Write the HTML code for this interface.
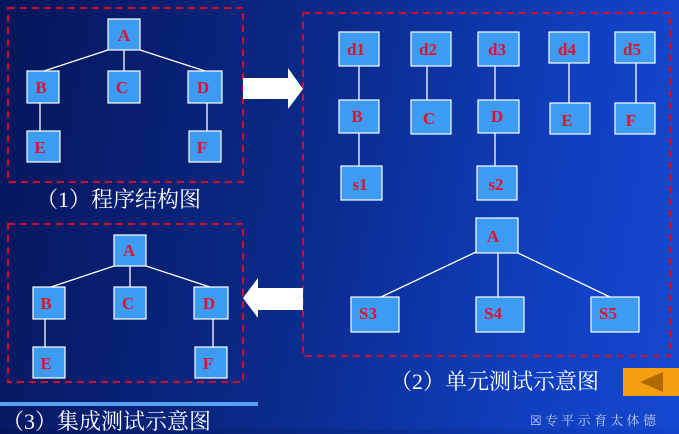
<!DOCTYPE html>
<html><head><meta charset="utf-8"><style>
html,body{margin:0;padding:0}
body{width:679px;height:429px;overflow:hidden;position:relative;background:linear-gradient(100deg,#06155a 0%,#0a2a8a 45%,#1040c0 80%,#1448d0 100%);font-family:"Liberation Serif","Noto Serif CJK SC",serif}
.cap{position:absolute;color:#fff;font-size:22px;line-height:24px;white-space:nowrap}
</style></head><body>
<svg width="679" height="429" style="position:absolute;left:0;top:0">
<g fill="none" stroke="#d0102a" stroke-width="2" stroke-dasharray="7,5">
<rect x="8" y="8" width="235" height="174"/>
<rect x="303" y="13" width="367" height="343"/>
<rect x="8" y="224" width="235" height="158"/>
</g>
<g stroke="#fff" stroke-width="1.3">
<line x1="108" y1="50" x2="44" y2="71"/><line x1="124" y1="50" x2="124" y2="71"/><line x1="140" y1="50" x2="205" y2="71"/>
<line x1="40" y1="103" x2="40" y2="131"/><line x1="207" y1="103" x2="207" y2="131"/>
<line x1="359" y1="66" x2="359" y2="100"/><line x1="427" y1="66" x2="427" y2="100"/><line x1="495" y1="66" x2="495" y2="100"/>
<line x1="569" y1="63" x2="569" y2="103"/><line x1="636" y1="63" x2="636" y2="103"/>
<line x1="359" y1="133" x2="359" y2="166"/><line x1="495" y1="133" x2="495" y2="166"/>
<line x1="476" y1="252" x2="381" y2="297"/><line x1="498" y1="253" x2="498" y2="297"/><line x1="518" y1="253" x2="610" y2="297"/>
<line x1="114" y1="266" x2="51" y2="287"/><line x1="130" y1="266" x2="130" y2="287"/><line x1="146" y1="266" x2="210" y2="287"/>
<line x1="45" y1="319" x2="45" y2="347"/><line x1="213" y1="319" x2="213" y2="347"/>
</g>
<g fill="#3d9cf2" stroke="#fff" stroke-width="1.2">
<rect x="108" y="19" width="32" height="31"/><rect x="27" y="71" width="32" height="32"/><rect x="108" y="71" width="32" height="32"/><rect x="188" y="71" width="34" height="32"/><rect x="27" y="131" width="33" height="31"/><rect x="189" y="131" width="32" height="31"/>
<rect x="339" y="32" width="40" height="34"/><rect x="411" y="32" width="40" height="34"/><rect x="478" y="32" width="41" height="34"/><rect x="549" y="32" width="40" height="31"/><rect x="615" y="32" width="40" height="31"/>
<rect x="339" y="100" width="40" height="33"/><rect x="411" y="100" width="40" height="34"/><rect x="478" y="100" width="41" height="33"/><rect x="550" y="103" width="40" height="31"/><rect x="615" y="103" width="40" height="31"/>
<rect x="341" y="166" width="41" height="34"/><rect x="477" y="166" width="40" height="34"/>
<rect x="476" y="218" width="42" height="35"/><rect x="351" y="297" width="48" height="35"/><rect x="476" y="297" width="48" height="35"/><rect x="591" y="297" width="48" height="35"/>
<rect x="114" y="235" width="32" height="31"/><rect x="33" y="287" width="32" height="32"/><rect x="114" y="287" width="32" height="32"/><rect x="194" y="287" width="34" height="32"/><rect x="33" y="347" width="32" height="31"/><rect x="195" y="347" width="32" height="31"/>
</g>
<g fill="#e01030" font-family="Liberation Serif,serif" font-weight="bold" font-size="17" text-anchor="middle">
<text x="124" y="41">A</text><text x="41" y="93">B</text><text x="122" y="93">C</text><text x="203" y="93">D</text><text x="40" y="153">E</text><text x="202" y="153">F</text>
<text x="356" y="55">d1</text><text x="428" y="55">d2</text><text x="497" y="55">d3</text><text x="567" y="55">d4</text><text x="632" y="55">d5</text>
<text x="357" y="122">B</text><text x="429" y="124">C</text><text x="497" y="122">D</text><text x="567" y="126">E</text><text x="631" y="126">F</text>
<text x="360" y="190">s1</text><text x="496" y="190">s2</text>
<text x="493" y="242">A</text><text x="368" y="319">S3</text><text x="493" y="319">S4</text><text x="608" y="319">S5</text>
<text x="129" y="256">A</text><text x="46" y="309">B</text><text x="128" y="309">C</text><text x="209" y="309">D</text><text x="46" y="369">E</text><text x="208" y="369">F</text>
</g>
<polygon fill="#fff" points="243,78 288,78 288,68 303,89 288,109 288,99 243,99"/>
<polygon fill="#fff" points="303,288 258,288 258,278 243,298 258,318 258,310 303,310"/>
<rect x="0" y="402" width="258" height="4" fill="#5aa0f0"/>
<rect x="623" y="368" width="56" height="28" fill="#f5a010"/>
<polygon fill="#b06a00" points="640,382 663,372 663,392"/>
<text x="530" y="425" fill="#c8d0e8" font-size="13" font-family="Noto Serif CJK SC,serif">☒ 专 平 示 育 太 体 德</text>
</svg>
<div class="cap" style="left:36px;top:188px">（1）程序结构图</div>
<div class="cap" style="left:390px;top:370px">（2）单元测试示意图</div>
<div class="cap" style="left:2px;top:410px">（3）集成测试示意图</div>
</body></html>
